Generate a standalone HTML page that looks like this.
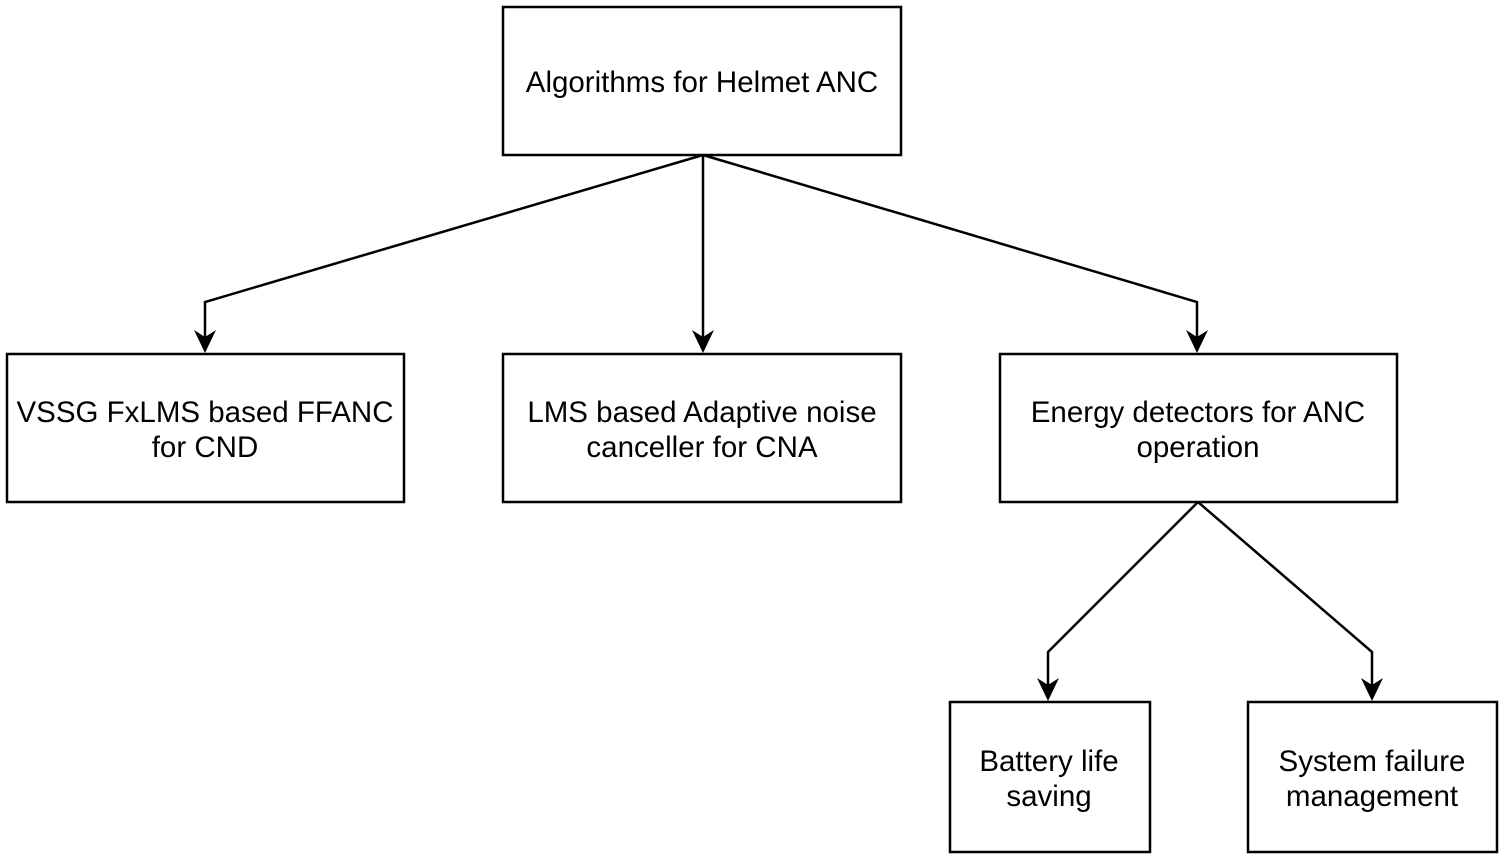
<!DOCTYPE html>
<html><head><style>
body{margin:0;background:#fff;width:1504px;height:858px;overflow:hidden}
svg{display:block}
text{font-family:"Liberation Sans",Arial,sans-serif;font-size:29.5px;fill:#000;text-anchor:middle}
rect{fill:#fff;stroke:#000;stroke-width:2.5}
path.l{fill:none;stroke:#000;stroke-width:2.5}
</style></head><body>
<svg width="1504" height="858" viewBox="0 0 1504 858">
<path class="l" d="M703 155 L205 302 L205 340"/>
<path class="l" d="M703 155 L703 340"/>
<path class="l" d="M703 155 L1197 302 L1197 340"/>
<path class="l" d="M1198 502 L1048 652 L1048 688"/>
<path class="l" d="M1198 502 L1372 652 L1372 688"/>
<polygon points="194,330 205,353 216,330 205,337"/>
<polygon points="692,330 703,353 714,330 703,337"/>
<polygon points="1186,330 1197,353 1208,330 1197,337"/>
<polygon points="1037,678 1048,701 1059,678 1048,685"/>
<polygon points="1361,678 1372,701 1383,678 1372,685"/>
<rect x="503" y="7" width="398" height="148"/>
<text x="702" y="92">Algorithms for Helmet ANC</text>
<rect x="7" y="354" width="397" height="148"/>
<text x="205" y="422">VSSG FxLMS based FFANC</text>
<text x="205" y="457">for CND</text>
<rect x="503" y="354" width="398" height="148"/>
<text x="702" y="422">LMS based Adaptive noise</text>
<text x="702" y="457">canceller for CNA</text>
<rect x="1000" y="354" width="397" height="148"/>
<text x="1198" y="422">Energy detectors for ANC</text>
<text x="1198" y="457">operation</text>
<rect x="950" y="702" width="200" height="150"/>
<text x="1049" y="771">Battery life</text>
<text x="1049" y="806">saving</text>
<rect x="1248" y="702" width="249" height="150"/>
<text x="1372" y="771">System failure</text>
<text x="1372" y="806">management</text>
</svg>
</body></html>
